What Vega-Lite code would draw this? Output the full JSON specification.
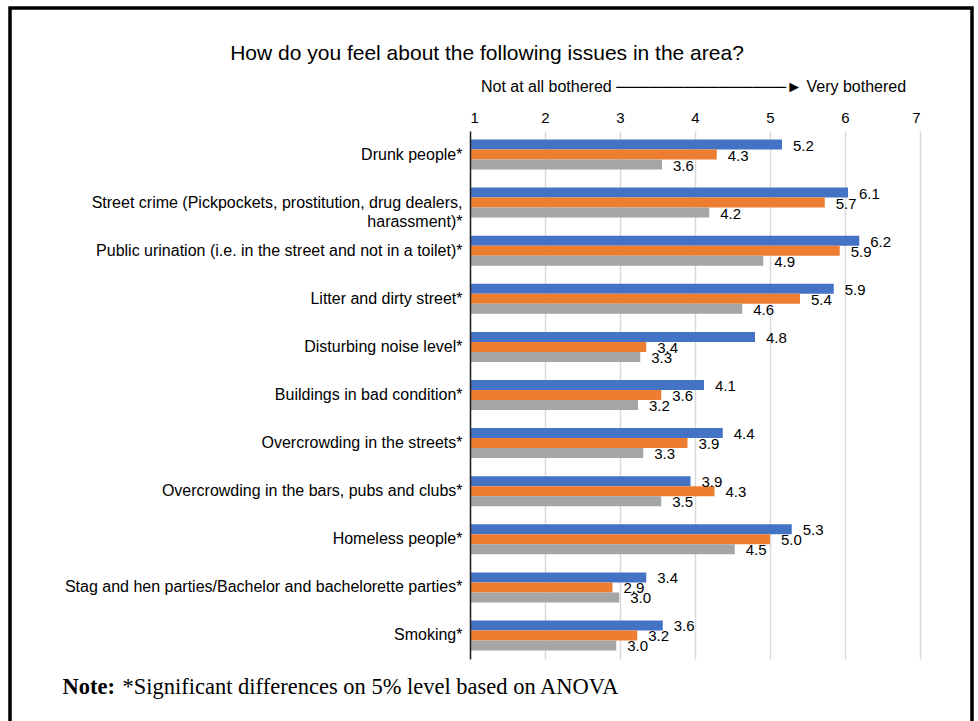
{
  "$schema": "https://vega.github.io/schema/vega-lite/v6.json",
  "width": 962,
  "height": 723,
  "autosize": {"type": "none"},
  "padding": {"left": 10, "top": 8, "right": 6, "bottom": -10},
  "background": "white",
  "config": {
    "view": {"stroke": "black", "strokeWidth": 3.5},
    "font": "Liberation Sans"
  },
  "title": {
    "text": "How do you feel about the following issues in the area?",
    "fontSize": 21,
    "fontWeight": "normal",
    "font": "Liberation Sans",
    "color": "black",
    "anchor": "middle",
    "frame": "group",
    "dx": -4,
    "offset": -56
  },
  "data": {
    "values": [
      {"issue": "Drunk people*", "series": "Group 1", "value": 5.16, "label": "5.2"},
      {"issue": "Drunk people*", "series": "Group 2", "value": 4.29, "label": "4.3"},
      {"issue": "Drunk people*", "series": "Group 3", "value": 3.56, "label": "3.6"},
      {"issue": "Street crime (Pickpockets, prostitution, drug dealers,\nharassment)*", "series": "Group 1", "value": 6.04, "label": "6.1"},
      {"issue": "Street crime (Pickpockets, prostitution, drug dealers,\nharassment)*", "series": "Group 2", "value": 5.73, "label": "5.7"},
      {"issue": "Street crime (Pickpockets, prostitution, drug dealers,\nharassment)*", "series": "Group 3", "value": 4.19, "label": "4.2"},
      {"issue": "Public urination (i.e. in the street and not in a toilet)*", "series": "Group 1", "value": 6.19, "label": "6.2"},
      {"issue": "Public urination (i.e. in the street and not in a toilet)*", "series": "Group 2", "value": 5.93, "label": "5.9"},
      {"issue": "Public urination (i.e. in the street and not in a toilet)*", "series": "Group 3", "value": 4.91, "label": "4.9"},
      {"issue": "Litter and dirty street*", "series": "Group 1", "value": 5.85, "label": "5.9"},
      {"issue": "Litter and dirty street*", "series": "Group 2", "value": 5.4, "label": "5.4"},
      {"issue": "Litter and dirty street*", "series": "Group 3", "value": 4.63, "label": "4.6"},
      {"issue": "Disturbing noise level*", "series": "Group 1", "value": 4.8, "label": "4.8"},
      {"issue": "Disturbing noise level*", "series": "Group 2", "value": 3.35, "label": "3.4"},
      {"issue": "Disturbing noise level*", "series": "Group 3", "value": 3.27, "label": "3.3"},
      {"issue": "Buildings in bad condition*", "series": "Group 1", "value": 4.12, "label": "4.1"},
      {"issue": "Buildings in bad condition*", "series": "Group 2", "value": 3.55, "label": "3.6"},
      {"issue": "Buildings in bad condition*", "series": "Group 3", "value": 3.24, "label": "3.2"},
      {"issue": "Overcrowding in the streets*", "series": "Group 1", "value": 4.37, "label": "4.4"},
      {"issue": "Overcrowding in the streets*", "series": "Group 2", "value": 3.9, "label": "3.9"},
      {"issue": "Overcrowding in the streets*", "series": "Group 3", "value": 3.31, "label": "3.3"},
      {"issue": "Overcrowding in the bars, pubs and clubs*", "series": "Group 1", "value": 3.94, "label": "3.9"},
      {"issue": "Overcrowding in the bars, pubs and clubs*", "series": "Group 2", "value": 4.26, "label": "4.3"},
      {"issue": "Overcrowding in the bars, pubs and clubs*", "series": "Group 3", "value": 3.55, "label": "3.5"},
      {"issue": "Homeless people*", "series": "Group 1", "value": 5.29, "label": "5.3"},
      {"issue": "Homeless people*", "series": "Group 2", "value": 5.0, "label": "5.0"},
      {"issue": "Homeless people*", "series": "Group 3", "value": 4.53, "label": "4.5"},
      {"issue": "Stag and hen parties/Bachelor and bachelorette parties*", "series": "Group 1", "value": 3.35, "label": "3.4"},
      {"issue": "Stag and hen parties/Bachelor and bachelorette parties*", "series": "Group 2", "value": 2.9, "label": "2.9"},
      {"issue": "Stag and hen parties/Bachelor and bachelorette parties*", "series": "Group 3", "value": 2.99, "label": "3.0"},
      {"issue": "Smoking*", "series": "Group 1", "value": 3.57, "label": "3.6"},
      {"issue": "Smoking*", "series": "Group 2", "value": 3.23, "label": "3.2"},
      {"issue": "Smoking*", "series": "Group 3", "value": 2.95, "label": "3.0"}
    ]
  },
  "layer": [
    {
      "mark": {"type": "bar"},
      "encoding": {
        "y": {
          "field": "issue",
          "type": "nominal",
          "sort": null,
          "scale": {"range": [123, 651], "paddingInner": 0.376, "paddingOuter": 0.177},
          "axis": {
            "orient": "left",
            "offset": -460,
            "zindex": 1,
            "domain": true,
            "domainColor": "#222222",
            "domainWidth": 1.5,
            "ticks": false,
            "labelPadding": 8,
            "labelFontSize": 16,
            "labelColor": "black",
            "labelLimit": 600,
            "labelLineHeight": 19,
            "labelExpr": "split(datum.value, '\\n')",
            "title": "Note:",
            "titleFont": "Liberation Serif",
            "titleFontSize": 22.5,
            "titleFontWeight": "bold",
            "titleColor": "black",
            "titleAngle": 0,
            "titleAlign": "left",
            "titleBaseline": "middle",
            "titleX": -408,
            "titleY": 678
          }
        },
        "yOffset": {"field": "series", "sort": null, "scale": {"paddingInner": 0, "paddingOuter": 0}},
        "x": {
          "field": "value",
          "type": "quantitative",
          "scale": {"domain": [1, 7], "range": [460, 910], "nice": false, "zero": false},
          "axis": {
            "orient": "top",
            "offset": -123,
            "values": [1, 2, 3, 4, 5, 6, 7],
            "format": "d",
            "grid": true,
            "gridColor": "#d9d9d9",
            "gridWidth": 1.5,
            "domain": false,
            "ticks": false,
            "labelPadding": 6,
            "labelFontSize": 15,
            "labelColor": "black",
            "title": "Not at all bothered ───────────────► Very bothered",
            "titleFontSize": 16,
            "titleFontWeight": "normal",
            "titleColor": "black",
            "titleX": 683,
            "titleY": -45,
            "titleAlign": "center",
            "titleBaseline": "middle"
          }
        },
        "x2": {"datum": 1},
        "color": {
          "field": "series",
          "type": "nominal",
          "sort": null,
          "scale": {"range": ["#4472C4", "#ED7D31", "#A5A5A5"]},
          "legend": null
        }
      }
    },
    {
      "mark": {"type": "text", "align": "left", "baseline": "middle", "dx": 11, "dy": 1, "fontSize": 15, "color": "black"},
      "encoding": {
        "y": {"field": "issue", "type": "nominal", "sort": null},
        "yOffset": {"field": "series", "sort": null},
        "x": {
          "field": "value",
          "type": "quantitative",
          "axis": {
            "orient": "bottom",
            "labels": false,
            "ticks": false,
            "domain": false,
            "grid": false,
            "title": "*Significant differences on 5% level based on ANOVA",
            "titleFont": "Liberation Serif",
            "titleFontSize": 22.5,
            "titleFontWeight": "normal",
            "titleColor": "black",
            "titleX": 112,
            "titleY": -45,
            "titleAlign": "left",
            "titleBaseline": "middle"
          }
        },
        "text": {"field": "label"}
      }
    }
  ],
  "resolve": {"axis": {"x": "independent"}}
}
